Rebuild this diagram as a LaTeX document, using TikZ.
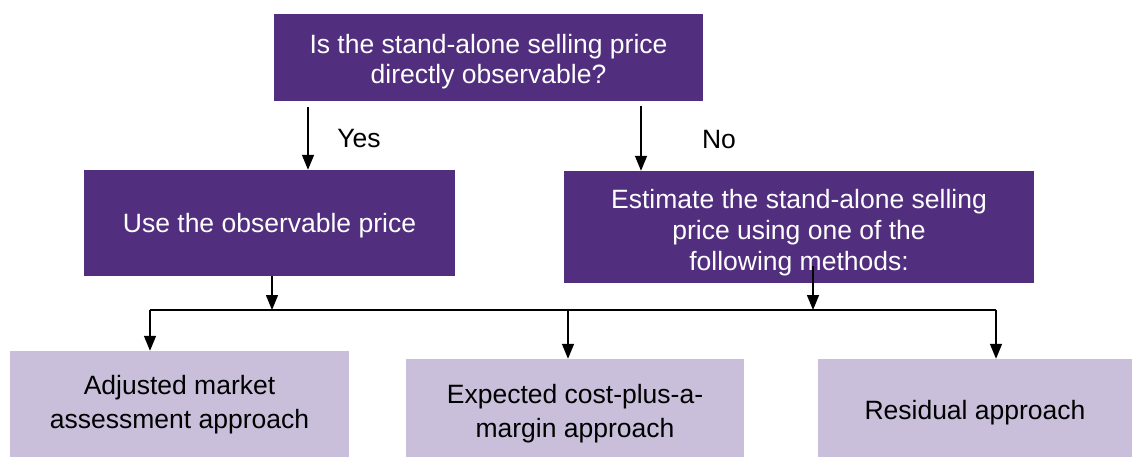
\documentclass[tikz,border=0pt]{standalone}
\usepackage{fontspec}
\setmainfont{Liberation Sans}
\usetikzlibrary{arrows.meta,calc}
\definecolor{darkp}{HTML}{512F7E}
\definecolor{lightp}{HTML}{C9BFDB}
\tikzset{
  dbox/.style={fill=darkp,inner sep=0pt},
  lbox/.style={fill=lightp,inner sep=0pt},
  dtxt/.style={text=white,inner sep=0pt,align=center,font=\fontsize{26.5}{29.5}\selectfont},
  ltxt/.style={text=black,inner sep=0pt,align=center,font=\fontsize{26.5}{34}\selectfont},
  lbl/.style={font=\fontsize{26.5}{29}\selectfont,inner sep=0pt},
  arr/.style={line width=1.5pt,-{Triangle[width=12pt,length=15pt]}},
  bus/.style={line width=2.5pt}
}
\begin{document}
\begin{tikzpicture}[x=1pt,y=-1pt]
\useasboundingbox (0,0) rectangle (1139,457);
\node[dbox,minimum width=429pt,minimum height=87pt] (q) at (488.5,57.5) {};
\node[dtxt] (qt) at ([yshift=-4pt]q.center) {Is the stand-alone selling price\\directly observable?};
\node[dbox,minimum width=371pt,minimum height=106pt] (use) at (269.5,223) {};
\node[dtxt] (uset) at ([yshift=-3pt]use.center) {Use the observable price};
\node[dbox,minimum width=470pt,minimum height=112pt] (est) at (799,227) {};
\node[dtxt,font=\fontsize{26.5}{31}\selectfont] (estt) at ([yshift=-6pt]est.center) {Estimate the stand-alone selling\\price using one of the\\following methods:};
\node[lbox,minimum width=339pt,minimum height=106pt] (b1) at (179.5,404) {};
\node[ltxt] (b1t) at ([yshift=-1pt]b1.center) {Adjusted market\\assessment approach};
\node[lbox,minimum width=338pt,minimum height=98pt] (b2) at (575,408) {};
\node[ltxt] (b2t) at ([yshift=-6pt]b2.center) {Expected cost-plus-a-\\margin approach};
\node[lbox,minimum width=314pt,minimum height=98pt] (b3) at (975,408) {};
\node[ltxt] (b3t) at ([yshift=-5pt]b3.center) {Residual approach};
\node[lbl] (yes) at (359,139) {Yes};
\node[lbl] (no) at (719,140) {No};
\coordinate (yx) at (308,0);
\coordinate (nx) at (641,0);
\coordinate (ux) at (272,0);
\coordinate (ex) at (813,266);
\coordinate (busL) at (150,310);
\coordinate (busR) at (996,310);
\coordinate (busM) at (568,310);
\draw[arr] ([yshift=-6pt]q.south -| yx) -- (use.north -| yx);
\draw[arr] ([yshift=-5pt]q.south -| nx) -- (est.north -| nx);
\draw[bus] (busL) -- (busR);
\draw[arr] (use.south -| ux) -- (busL -| ux);
\draw[arr] (ex) -- (busL -| ex);
\draw[arr] (busL) -- (b1.north -| busL);
\draw[arr] (busM) -- (b2.north -| busM);
\draw[arr] (busR) -- (b3.north -| busR);
\end{tikzpicture}
\end{document}
